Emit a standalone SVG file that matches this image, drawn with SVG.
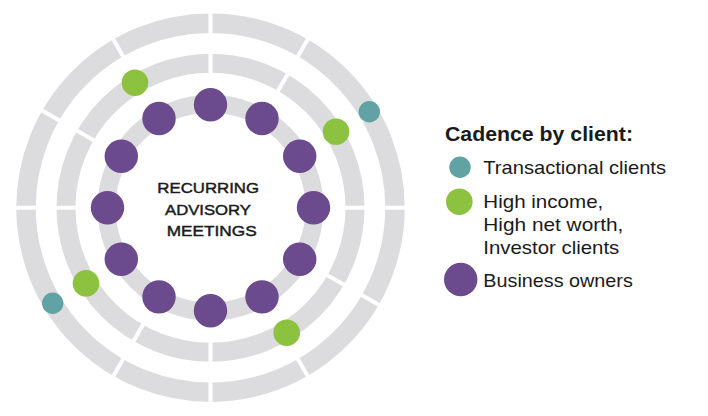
<svg xmlns="http://www.w3.org/2000/svg" xmlns:xlink="http://www.w3.org/1999/xlink" width="708" height="416" viewBox="0 0 708 416">
  <style>
    .ring { fill: none; stroke: #dcdcde; }
    .gap { stroke: #ffffff; stroke-width: 4; }
    .purple { fill: #6b4a8d; }
    .green { fill: #8cc23f; }
    .teal { fill: #61a3a4; }
    .center { font-family: "Liberation Sans", Arial, sans-serif; font-size: 15.5px; fill: #1a1a1a; text-anchor: middle; stroke: #1a1a1a; stroke-width: 0.45; }
    .head { font-family: "Liberation Sans", Arial, sans-serif; font-size: 19.5px; font-weight: bold; fill: #1a1a1a; }
    .label { font-family: "Liberation Sans", Arial, sans-serif; font-size: 19px; fill: #1a1a1a; }
  </style>
  <defs>
    <line id="gapline" class="gap" x1="125" y1="0" x2="200" y2="0"/>
  </defs>
  <rect width="708" height="416" fill="#ffffff"/>

  <g id="rings">
    <circle class="ring" cx="210.5" cy="207.7" r="184.5" stroke-width="19.5"/>
    <circle class="ring" cx="210.5" cy="207.7" r="144.5" stroke-width="19"/>
    <g id="gaps" transform="translate(210.5 207.7)">
      <use xlink:href="#gapline" transform="rotate(0)"/>
      <use xlink:href="#gapline" transform="rotate(30)"/>
      <use xlink:href="#gapline" transform="rotate(60)"/>
      <use xlink:href="#gapline" transform="rotate(90)"/>
      <use xlink:href="#gapline" transform="rotate(120)"/>
      <use xlink:href="#gapline" transform="rotate(150)"/>
      <use xlink:href="#gapline" transform="rotate(180)"/>
      <use xlink:href="#gapline" transform="rotate(210)"/>
      <use xlink:href="#gapline" transform="rotate(240)"/>
      <use xlink:href="#gapline" transform="rotate(270)"/>
      <use xlink:href="#gapline" transform="rotate(300)"/>
      <use xlink:href="#gapline" transform="rotate(330)"/>
    </g>
    <circle class="ring" cx="210.5" cy="207.7" r="104" stroke-width="18"/>
  </g>

  <g id="business-owners">
    <circle class="purple" cx="210.5" cy="104.7" r="16.7"/>
    <circle class="purple" cx="262" cy="118.5" r="16.7"/>
    <circle class="purple" cx="299.7" cy="156.2" r="16.7"/>
    <circle class="purple" cx="313.5" cy="207.7" r="16.7"/>
    <circle class="purple" cx="299.7" cy="259.2" r="16.7"/>
    <circle class="purple" cx="262" cy="296.9" r="16.7"/>
    <circle class="purple" cx="210.5" cy="310.7" r="16.7"/>
    <circle class="purple" cx="159" cy="296.9" r="16.7"/>
    <circle class="purple" cx="121.3" cy="259.2" r="16.7"/>
    <circle class="purple" cx="107.5" cy="207.7" r="16.7"/>
    <circle class="purple" cx="121.3" cy="156.2" r="16.7"/>
    <circle class="purple" cx="159" cy="118.5" r="16.7"/>
  </g>

  <g id="high-income-clients">
    <circle class="green" cx="336" cy="131.7" r="13.3"/>
    <circle class="green" cx="135" cy="82.7" r="13.3"/>
    <circle class="green" cx="86" cy="283.3" r="13.3"/>
    <circle class="green" cx="286.7" cy="332.7" r="13.3"/>
  </g>

  <g id="transactional-clients">
    <circle class="teal" cx="369.3" cy="111.7" r="10.7"/>
    <circle class="teal" cx="52.7" cy="303.3" r="10.7"/>
  </g>

  <g id="center-label">
    <text class="center" x="208.2" y="193.3" textLength="101.7" lengthAdjust="spacingAndGlyphs">RECURRING</text>
    <text class="center" x="208" y="215" textLength="86" lengthAdjust="spacingAndGlyphs">ADVISORY</text>
    <text class="center" x="211.7" y="236" textLength="90" lengthAdjust="spacingAndGlyphs">MEETINGS</text>
  </g>

  <g id="legend">
    <text class="head" x="445" y="140.7" textLength="188" lengthAdjust="spacingAndGlyphs">Cadence by client:</text>
    <g id="legend-transactional">
      <circle class="teal" cx="460" cy="167.3" r="10.7"/>
      <text class="label" x="483.3" y="173.5" textLength="182.7" lengthAdjust="spacingAndGlyphs">Transactional clients</text>
    </g>
    <g id="legend-high-income">
      <circle class="green" cx="459.3" cy="201.7" r="13.3"/>
      <text class="label" x="483.3" y="207.5" textLength="120" lengthAdjust="spacingAndGlyphs">High income,</text>
      <text class="label" x="483.3" y="231" textLength="140" lengthAdjust="spacingAndGlyphs">High net worth,</text>
      <text class="label" x="483.3" y="254" textLength="136" lengthAdjust="spacingAndGlyphs">Investor clients</text>
    </g>
    <g id="legend-business">
      <circle class="purple" cx="460.7" cy="279.5" r="16.7"/>
      <text class="label" x="483.3" y="287.3" textLength="149.5" lengthAdjust="spacingAndGlyphs">Business owners</text>
    </g>
  </g>
</svg>
